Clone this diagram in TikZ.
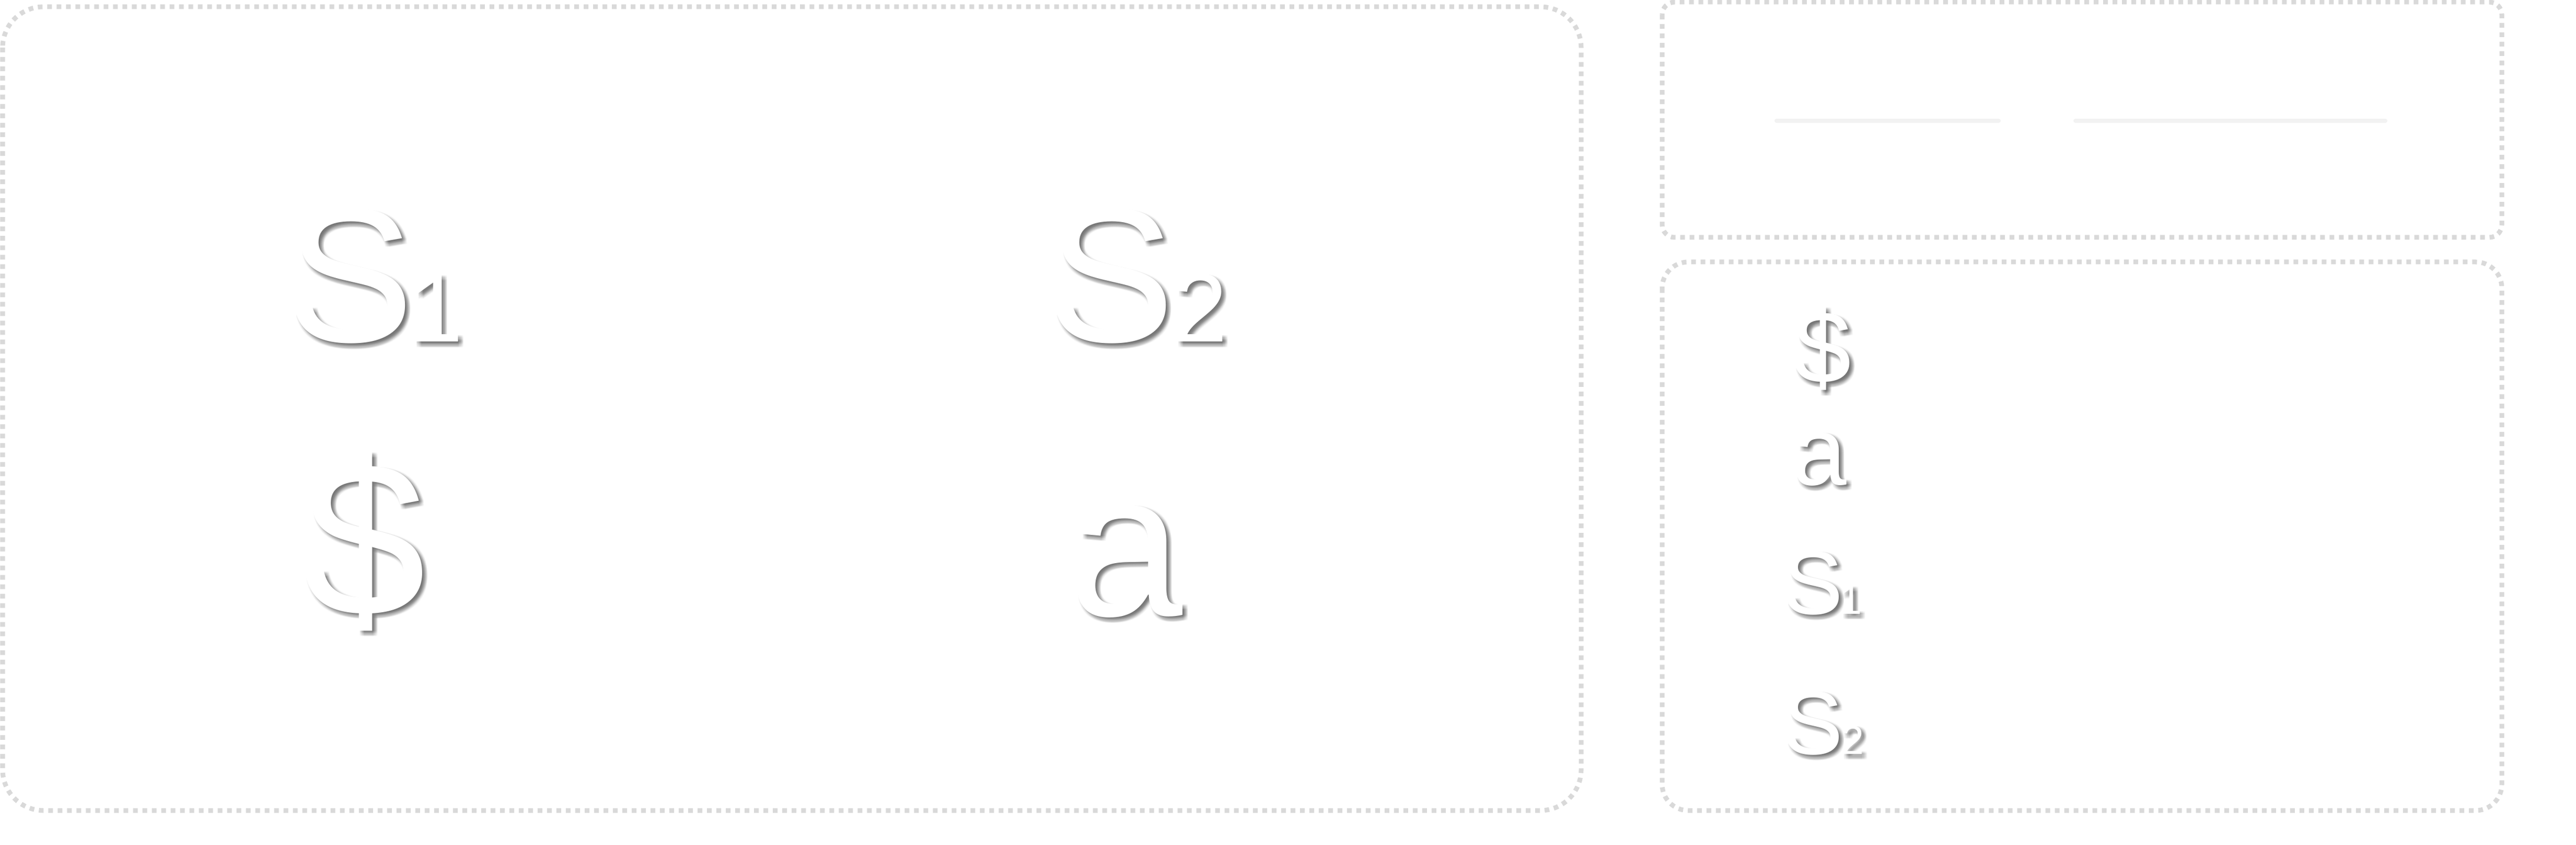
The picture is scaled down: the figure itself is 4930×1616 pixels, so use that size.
\documentclass[tikz,border=0pt]{standalone}
\usepackage{fontspec}
\setmainfont{Liberation Sans}
\newfontfamily\symfont{Liberation Sans}
\usetikzlibrary{positioning}
\definecolor{framegray}{HTML}{D9D9D9}
\definecolor{blankgray}{HTML}{F2F2F2}
\newcommand{\fs}[1]{\symfont\fontsize{#1}{#1}\selectfont}
% white symbol with a soft grey shadow
\newcommand{\shadowsym}[3]{%
  \foreach \dx in {0.5,1.1,1.7,2.3,2.9}{\foreach \dy in {0.5,1.1,1.7,2.3,2.9}{
    \node[symshadow, xshift=\dx pt, yshift=-\dy pt] at (#2) {#3};}}
  \node[sym] (#1) at (#2) {#3};}

\begin{document}
\begin{tikzpicture}[x=0.01cm, y=-0.01cm,
sym/.style={inner sep=0pt, anchor=base west, text=white, font=\symfont},
symshadow/.style={sym, text=black, text opacity=0.028},
panel/.style={draw=framegray, line width=0.9mm, dash pattern=on 0.9mm off 0.9mm},
blank/.style={draw=blankgray, line width=0.8mm, line cap=round}
]
\fill[white] (0,0) rectangle (4930,1616);
\useasboundingbox (0,0) rectangle (4930,1616);
% frames
\draw[panel, rounded corners=0.78cm] (5,13) rectangle (3026,1550);
\draw[panel, rounded corners=0.24cm] (3181,4) rectangle (4788,454);
\draw[panel, rounded corners=0.5cm] (3181,501) rectangle (4788,1550);
% blanks
\coordinate (b1l) at (3400,231);
\coordinate (b1r) at (3825,231);
\coordinate (b2l) at (3972,231);
\coordinate (b2r) at (4565,231);
\draw[blank] (b1l) -- (b1r);
\draw[blank] (b2l) -- (b2r);
% symbols
\shadowsym{S1}{548,654}{\fs{104pt}S\kern-3pt{\fs{53pt}1}}
\shadowsym{S2}{2004,654}{\fs{104pt}S\kern-1pt{\fs{53pt}2}}
\shadowsym{D}{580,1177}{\fs{120pt}\$}
\shadowsym{A}{2044,1177}{\fs{112pt}a}
% stack
\shadowsym{kD}{3433,733}{\fs{56pt}\$}
\shadowsym{kA}{3430,927}{\fs{53pt}a}
\shadowsym{kS1}{3412,1174}{\fs{49pt}S\kern-2pt{\fs{22pt}1}}
\shadowsym{kS2}{3412,1442}{\fs{49pt}S\kern-1pt{\fs{22pt}2}}
\end{tikzpicture}
\end{document}
